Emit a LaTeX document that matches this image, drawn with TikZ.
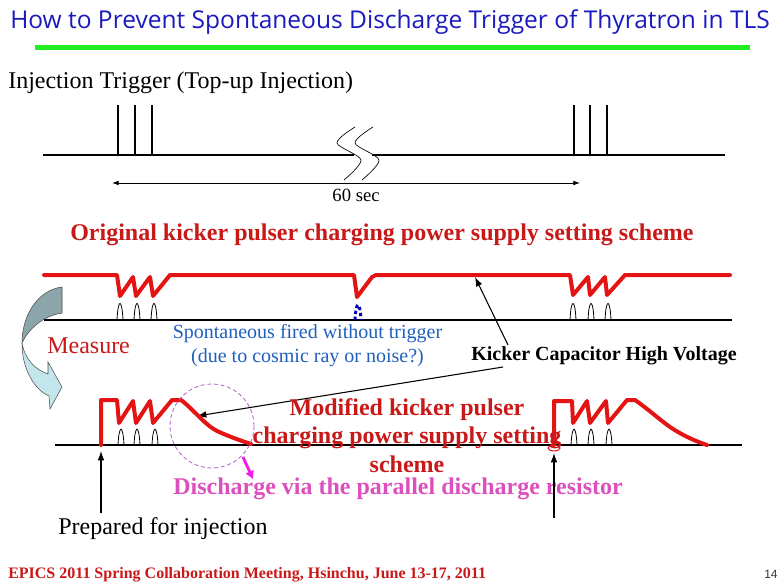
\documentclass[tikz,border=0pt]{standalone}
\usepackage{fontspec}
\setmainfont{Liberation Serif}
\newfontfamily\titlefont{Open Sans}
\newfontfamily\pagefont{Liberation Sans}
\usetikzlibrary{arrows.meta}

\definecolor{titleblue}{RGB}{26,26,190}
\definecolor{lgreen}{RGB}{34,238,34}
\definecolor{wavered}{RGB}{228,20,20}
\definecolor{textred}{RGB}{200,24,24}
\definecolor{textblue}{RGB}{30,95,190}
\definecolor{discmag}{RGB}{220,80,190}
\definecolor{arrmag}{RGB}{240,30,230}
\definecolor{circpurp}{RGB}{180,90,200}
\definecolor{cdark}{RGB}{140,165,170}
\definecolor{clight}{RGB}{195,230,236}

\tikzset{
  txt/.style={inner sep=0pt, anchor=base west},
  ctxt/.style={inner sep=0pt, anchor=base},
  wave/.style={draw=wavered, line width=3pt, line join=round, line cap=round},
  baseline/.style={draw=black, line width=0.8pt},
  pulse/.style={draw=black, line width=0.6pt},
  blkarrow/.style={draw=black, line width=0.8pt, -{Latex[length=7pt,width=5pt]}},
  dimarrow/.style={draw=black, line width=0.6pt, {Latex[length=5pt,width=3.5pt]}-{Latex[length=5pt,width=3.5pt]}},
}

\begin{document}
\begin{tikzpicture}[x=0.75pt,y=-0.75pt]
\useasboundingbox (0,0) rectangle (780,585);

% title
\node[txt, text=titleblue, font=\titlefont\fontsize{18.4}{22}\selectfont] (title) at (10,29) {How to Prevent Spontaneous Discharge Trigger of Thyratron in TLS};
\draw[lgreen, line width=3.75pt] (35,48) -- (750,48);

\node[txt, font=\fontsize{18}{21}\selectfont] (inj) at (8,88) {Injection Trigger (Top-up Injection)};

% trigger timeline
\draw[baseline] (43,155) -- (354,155);
\draw[baseline] (372,155) -- (725,155);
\foreach \x in {118,135,152,574,590,607}
  \draw[black, line width=2pt] (\x,105) -- (\x,155);
\draw[black, line width=0.5pt] plot[smooth] coordinates {(355,127) (337,143) (361,160) (344,180)};
\draw[black, line width=0.5pt] plot[smooth] coordinates {(373,127) (355,143) (379,160) (362,180)};
\coordinate (dimL) at (112,183);
\coordinate (dimR) at (580,183);
\draw[dimarrow] (dimL) -- (dimR);
\node[ctxt, font=\fontsize{14}{16}\selectfont] (sixty) at (356,201) {60 sec};

% original scheme
\node[txt, text=textred, font=\bfseries\fontsize{18}{21}\selectfont] (orig) at (70,240) {Original kicker pulser charging power supply setting scheme};

\draw[wave] (44,275) -- (117,275) -- (120,296) -- (133,277) -- (136,296) -- (150,277) -- (153,296) -- (170,275) -- (354,275) -- (357,297) -- (372,277) -- (376,275) -- (570,275) -- (573,295) -- (588,277) -- (590,295) -- (605,277) -- (607,295) -- (625,275) -- (730,275);
\draw[baseline] (44,320) -- (732,320);
\foreach \x in {120,137,154,573,591,608}
  \draw[pulse] (\x-3,320) .. controls (\x-2,298) and (\x+2,298) .. (\x+3,320);
\draw[blue!70!black, line width=2.2pt, dash pattern=on 2.5pt off 2pt] (355,320) .. controls (356,300) and (360,300) .. (361,320);

% curved arrow
\draw[draw=black!70, line width=0.4pt, fill=cdark] (62,287) .. controls (38,290) and (22,315) .. (22,343) .. controls (28,330) and (42,316) .. (62,313) -- cycle;
\draw[draw=black!70, line width=0.4pt, fill=clight] (22,343) .. controls (22,370) and (35,390) .. (49,396) -- (50,409) -- (62,387) -- (48,362) -- (48,374) .. controls (36,370) and (25,360) .. (22,343) -- cycle;

\node[txt, text=textred, font=\fontsize{18}{21}\selectfont] (meas) at (47,353) {Measure};

\node[ctxt, text=textblue, font=\fontsize{15}{18}\selectfont] (spon1) at (307.5,338) {Spontaneous fired without trigger};
\node[ctxt, text=textblue, font=\fontsize{15}{18}\selectfont] (spon2) at (307.5,362) {(due to cosmic ray or noise?)};

\node[txt, font=\bfseries\fontsize{15}{18}\selectfont] (kick) at (471,360) {Kicker Capacitor High Voltage};
\coordinate (kA) at (508,345);
\coordinate (kAt) at (475,277);
\coordinate (kB) at (503,367);
\coordinate (kBt) at (197,416);
\draw[blkarrow] (kA) -- (kAt);
\draw[blkarrow] (kB) -- (kBt);

% modified scheme
\draw[baseline] (55,445) -- (742,445);
\foreach \x in {121,137,155,574,591,609}
  \draw[pulse] (\x-3,445) .. controls (\x-2,424) and (\x+2,424) .. (\x+3,445);
\draw[wave] (101,445) -- (101,400) -- (117,400) -- (119,423) -- (133,401) -- (136,423) -- (150,401) -- (153,423) -- (172,400) -- (181,400) .. controls (192,408) and (205,425) .. (217,431) .. controls (230,437) and (242,441) .. (251,444);
\draw[wave] (554,445) -- (554,401) -- (572,401) -- (573,423) -- (587,401) -- (590,423) -- (606,401) -- (608,423) -- (627,400) -- (635,400) .. controls (648,409) and (660,420) .. (670,427) .. controls (685,437) and (698,442) .. (707,445);
\fill[wavered] (554,440) circle[radius=2.6pt];
\draw[wavered, line width=0.8pt] (554,448) ellipse[x radius=4.5pt, y radius=2.2pt];

\draw[circpurp, line width=0.6pt, dash pattern=on 3pt off 2pt] (212,426) circle[radius=31.5pt];

\node[ctxt, text=textred, font=\bfseries\fontsize{18}{21}\selectfont] (mod1) at (407,415) {Modified kicker pulser};
\node[ctxt, text=textred, font=\bfseries\fontsize{18}{21}\selectfont] (mod2) at (407,443) {charging power supply setting};
\node[ctxt, text=textred, font=\bfseries\fontsize{18}{21}\selectfont] (mod3) at (407,472) {scheme};

\coordinate (mgA) at (243,457);
\coordinate (mgB) at (253,479);
\draw[arrmag, line width=2.2pt, -{Triangle[length=6pt,width=6pt]}] (mgA) -- (mgB);
\node[txt, text=discmag, font=\bfseries\fontsize{18}{21}\selectfont] (disc) at (173,494) {Discharge via the parallel discharge resistor};

\coordinate (pA) at (101,513);
\coordinate (pAt) at (101,451);
\coordinate (pB) at (554,518);
\coordinate (pBt) at (554,453);
\draw[blkarrow] (pA) -- (pAt);
\draw[blkarrow] (pB) -- (pBt);
\node[txt, font=\fontsize{18}{21}\selectfont] (prep) at (58,534) {Prepared for injection};

% footer
\node[txt, text=textred, font=\bfseries\fontsize{12}{14}\selectfont] (foot) at (8,578) {EPICS 2011 Spring Collaboration Meeting, Hsinchu, June 13-17, 2011};
\node[txt, text=black!80, font=\pagefont\fontsize{9}{11}\selectfont] (pg) at (764,578) {14};
\end{tikzpicture}
\end{document}
